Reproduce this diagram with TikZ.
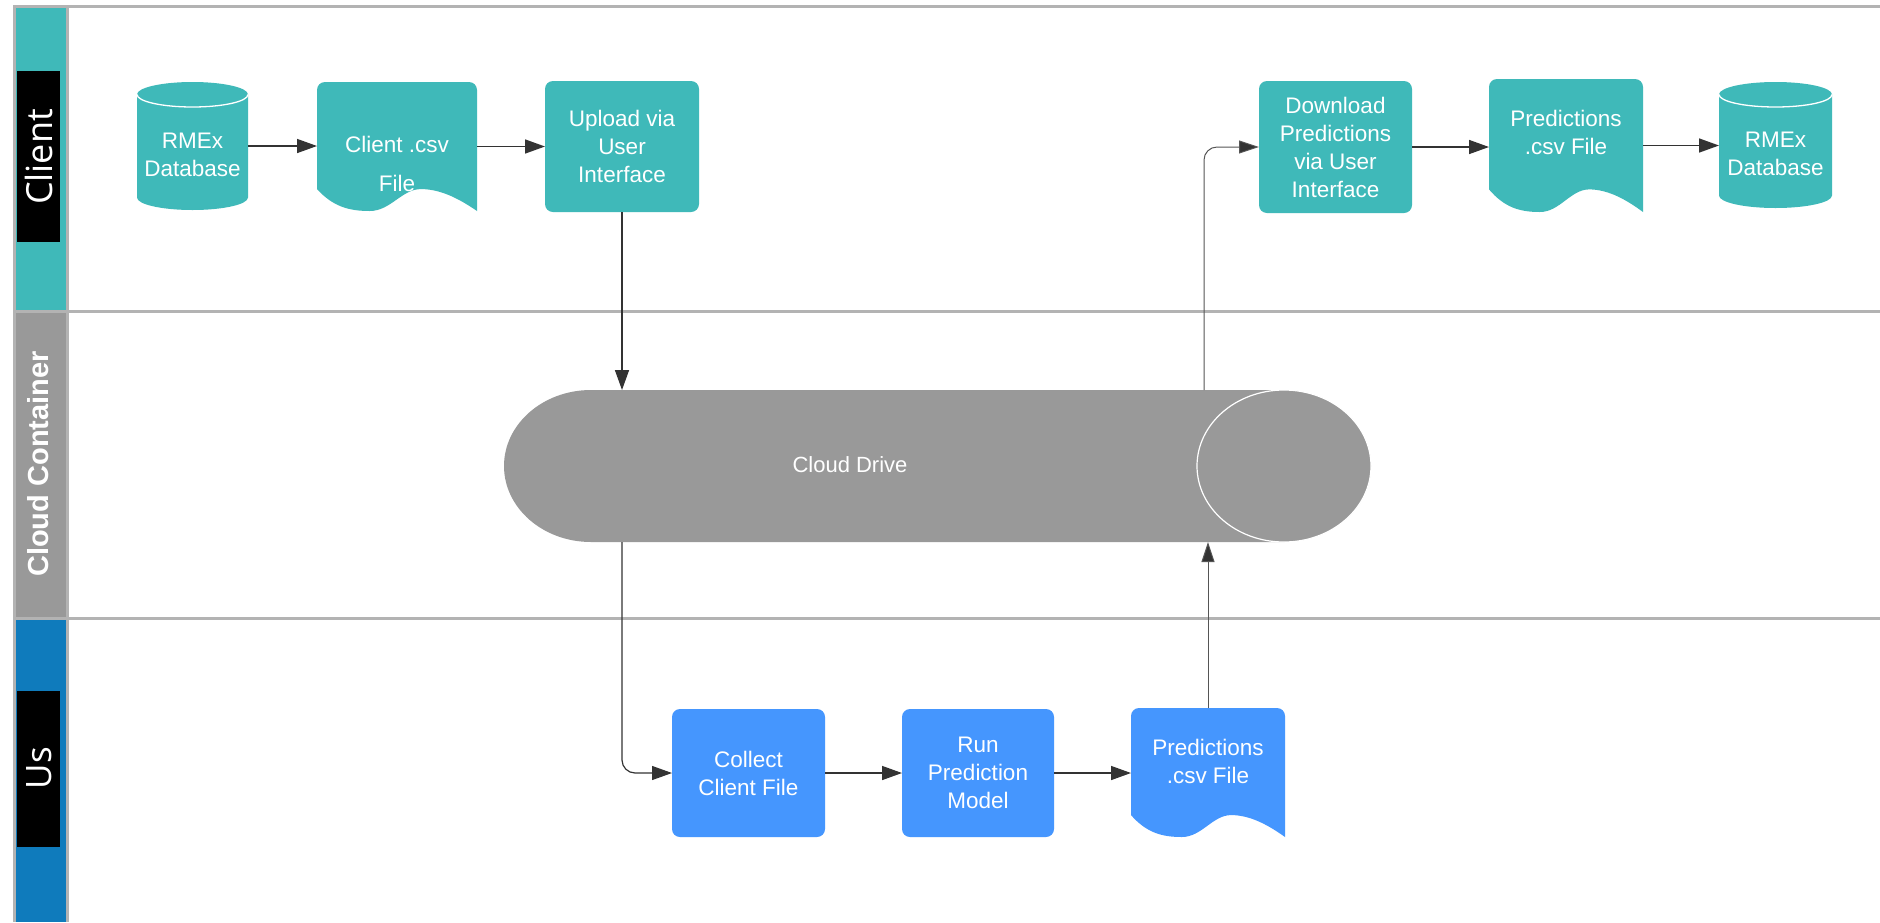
\documentclass[tikz,border=0pt]{standalone}
\usepackage{fontspec}
\setmainfont{Liberation Sans}
\newfontfamily\lanefont{Open Sans}
\usetikzlibrary{arrows.meta,calc}
\definecolor{tealc}{HTML}{3FB9B9}
\definecolor{bluen}{HTML}{4596FE}
\definecolor{blueh}{HTML}{0F7BBC}
\definecolor{grayc}{HTML}{999999}
\definecolor{lanel}{HTML}{B3B3B3}
\definecolor{arrc}{HTML}{333333}
\definecolor{arrthin}{HTML}{555555}
\tikzset{
  shapebox/.style={draw=none, inner sep=0pt, outer sep=0pt, rectangle},
  nodetext/.style={text=white, align=center, font=\fontsize{22.5}{28}\selectfont, inner sep=0pt},
  procbox/.style={rectangle, rounded corners=8pt, inner sep=0pt, outer sep=0pt, minimum width=153pt, minimum height=130pt, text=white, align=center, font=\fontsize{22.5}{28}\selectfont},
  arr/.style={draw=arrc, line width=1.5pt, -{Triangle[length=20pt,width=14pt]}},
  thinarr/.style={draw=arrthin, line width=1pt, -{Triangle[length=20pt,width=13pt, fill=arrc]}},
  laneline/.style={draw=lanel, line width=3pt},
  lanelabel/.style={text=white, rotate=90, inner sep=0pt},
}
\newcommand\DocShape[8]{%
  \pgfmathsetmacro\dsL{#3+0.83*#5}%
  \pgfmathsetmacro\dsB{#3+#5}%
  \pgfmathsetmacro\dsD{0.17*#5}%
  \fill[#6] (#2,\dsL) -- (#2,{#3+8}) arc[start angle=180,end angle=90,radius=8pt]
    -- ({#2+#4-8},#3) arc[start angle=90,end angle=0,radius=8pt]
    -- ({#2+#4},\dsB)
    .. controls ({#2+0.9*#4},{\dsL+0.5*\dsD}) and ({#2+0.78*#4},\dsL) .. ({#2+0.65*#4},\dsL)
    .. controls ({#2+0.53*#4},\dsL) and ({#2+0.46*#4},\dsB) .. ({#2+0.33*#4},\dsB)
    .. controls ({#2+0.2*#4},\dsB) and ({#2+0.1*#4},{\dsL+0.8*\dsD}) .. (#2,\dsL) -- cycle;
  \node[shapebox, minimum width=#4pt, minimum height=#5pt] (#1) at ({#2+0.5*#4},{#3+0.5*#5}) {};
  \node[nodetext] (#1-t) at ({#2+0.5*#4},{#3+0.5*#5+#7}) {#8};
}
\newcommand\DbShape[7]{%
  \pgfmathsetmacro\dbrx{#4/2}%
  \pgfmathsetmacro\dbry{12.5}%
  \fill[#6] (#2,{#3+12.5}) -- (#2,{#3+#5-12.5})
    arc[start angle=180,end angle=360,x radius=\dbrx pt,y radius=\dbry pt]
    -- ({#2+#4},{#3+12.5})
    arc[start angle=0,end angle=180,x radius=\dbrx pt,y radius=\dbry pt] -- cycle;
  \draw[white, line width=1.3pt] (#2,{#3+12.5})
    arc[start angle=180,end angle=360,x radius=\dbrx pt,y radius=\dbry pt];
  \node[shapebox, minimum width=#4pt, minimum height=#5pt] (#1) at ({#2+0.5*#4},{#3+0.5*#5}) {};
  \node[nodetext] (#1-t) at ({#2+0.5*#4},{#3+0.5*#5+9}) {#7};
}
\begin{document}
\begin{tikzpicture}[x=1pt,y=-1pt]
\useasboundingbox (0,0) rectangle (1880,922);
\fill[white] (0,0) rectangle (1880,922);
% lane headers
\fill[tealc] (14,6) rectangle (67,311.5);
\fill[grayc] (14,311.5) rectangle (67,618);
\fill[blueh] (14,618) rectangle (67,922);
\fill[black] (17,71) rectangle (60,242);
\fill[black] (17,691) rectangle (60,847);
\node[lanelabel, font=\lanefont\fontsize{36}{40}\selectfont] (lclient) at (39,157) {Client};
\node[lanelabel, font=\bfseries\fontsize{29}{32}\selectfont] (lcloud) at (38,464) {Cloud Container};
\node[lanelabel, font=\lanefont\fontsize{35}{40}\selectfont] (lus) at (39,768) {Us};
% lane lines
\draw[laneline] (13,6) -- (1880,6);
\draw[laneline] (13,311.5) -- (1880,311.5);
\draw[laneline] (13,618) -- (1880,618);
\draw[laneline] (14,5) -- (14,922);
\draw[laneline] (67.5,5) -- (67.5,922);
% client lane
\DbShape{rmex1}{137}{82}{111}{128}{tealc}{RMEx\\Database}
\DocShape{csv1}{317}{82}{160}{129}{tealc}{17}{Client .csv\\[11pt]File}
\node[procbox, fill=tealc, minimum width=154pt, minimum height=131pt] (upload) at (622,146.5) {Upload via\\User\\Interface};
\node[procbox, fill=tealc, minimum width=153pt, minimum height=132pt] (download) at (1335.5,147) {Download\\Predictions\\via User\\Interface};
\DocShape{pred1}{1489}{79}{154}{133}{tealc}{-13}{Predictions\\.csv File}
\DbShape{rmex2}{1719}{82}{113}{126}{tealc}{RMEx\\Database}
% cloud drive
\fill[grayc] (591,390) -- (1284,390)
  arc[start angle=90,end angle=-90,x radius=87pt,y radius=76pt]
  -- (591,542)
  arc[start angle=270,end angle=90,x radius=87pt,y radius=76pt] -- cycle;
\draw[white, line width=1.2pt] (1284,466) ellipse[x radius=87pt,y radius=76pt];
\node[shapebox, minimum width=867pt, minimum height=152pt] (cloud) at (937.5,466) {};
\node[nodetext, font=\fontsize{22}{26}\selectfont] (cloudlbl) at (850,465) {Cloud Drive};
% us lane
\node[procbox, fill=bluen, minimum width=153pt, minimum height=128pt] (collect) at (748.5,773) {Collect\\Client File};
\node[procbox, fill=bluen, minimum width=152pt, minimum height=128pt] (run) at (978,773) {Run\\Prediction\\Model};
\DocShape{pred2}{1131}{708}{154}{129}{bluen}{-11}{Predictions\\.csv File}
% connectors
\draw[arr] (rmex1.east) -- (rmex1.east -| csv1.west);
\draw[arr] (upload.west -| csv1.east) -- (upload.west);
\draw[arr] (upload.south) -- (upload.south |- cloud.north);
\draw[arr, line width=1.2pt, rounded corners=13pt] (cloud.south -| upload.south) |- (collect.west);
\draw[arr] (collect.east) -- (run.west);
\draw[arr] (run.east) -- (run.east -| pred2.west);
\draw[thinarr] (pred2.north) -- (pred2.north |- cloud.south);
\draw[thinarr, rounded corners=13pt] ([xshift=-4pt]cloud.north -| pred2.north) |- (download.west);
\draw[arr] (download.east) -- (download.east -| pred1.west);
\draw[arr] (pred1.east) -- (pred1.east -| rmex2.west);
\end{tikzpicture}
\end{document}
